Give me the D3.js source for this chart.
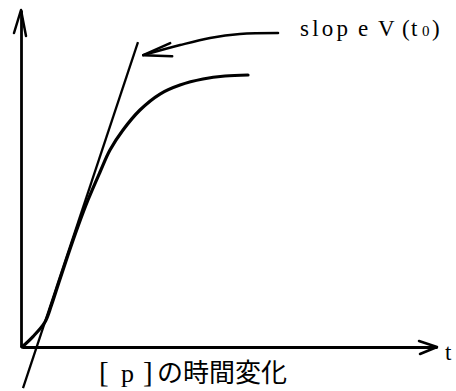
<!DOCTYPE html>
<html>
<head>
<meta charset="utf-8">
<script src="https://cdn.jsdelivr.net/npm/d3@7/dist/d3.min.js"></script>
<style>
  html, body { margin: 0; padding: 0; background: #fff; }
  svg { display: block; }
  .serif { font-family: "Liberation Serif", "DejaVu Serif", serif; }
  .cjk { font-family: "Noto Sans CJK JP", sans-serif; }
</style>
</head>
<body>
<svg id="chart" width="456" height="391"></svg>
<script>
// Product concentration [p] over time t (arbitrary units)
const timeT = [0, 2.65, 5.54, 7.11, 8.92, 11.08, 13.61, 15.9, 18.8, 21.2, 24.34, 28.43, 33.25, 38.07, 43.61, 48.92, 54.46];
const productP = [0, 3.1, 7.42, 12.46, 19.29, 27.3, 36.2, 43.62, 51.93, 58.46, 64.39, 70.33, 75.07, 77.74, 79.53, 80.42, 80.71];

// Tangent line at t0 (slope V(t0)), given by its two end points
const tangentT = [0.24, 27.95];
const tangentP = [-12.17, 90.5];

// Annotation arrow pointing at the tangent line
const pointerT = [61.7, 52.5, 45.3, 38.1, 29.2];
const pointerP = [93.2, 92.9, 91.7, 89.6, 86.6];

const svg = d3.select("#chart");
const margin = { left: 22, right: 19, top: 10, bottom: 44 };
const W = 456, H = 391;

const x = d3.scaleLinear().domain([0, 100]).range([margin.left, W - margin.right]);
const y = d3.scaleLinear().domain([0, 100]).range([H - margin.bottom, margin.top]);

// Axes: plain lines without ticks, ending in open arrowheads
const xAxis = svg.append("g")
  .attr("transform", `translate(0,${y(0)})`)
  .call(d3.axisBottom(x).tickValues([]).tickSizeOuter(0));
const yAxis = svg.append("g")
  .attr("transform", `translate(${x(0) - 1},0)`)
  .call(d3.axisLeft(y).tickValues([]).tickSizeOuter(0));
[xAxis, yAxis].forEach(g => g.select(".domain")
  .attr("stroke", "#000").attr("stroke-width", 2.8));

const line = d3.line().x(d => d[0]).y(d => d[1]);
const arrowStyle = sel => sel.attr("fill", "none").attr("stroke", "#000")
  .attr("stroke-width", 2.5).attr("stroke-linecap", "round").attr("stroke-linejoin", "round");

// y-axis arrowhead
const yTip = [x(0) - 1, y(100)];
svg.append("path").call(arrowStyle)
  .attr("d", line([[yTip[0] - 7, yTip[1] + 23], yTip, [yTip[0] + 5, yTip[1] + 26]]));
// x-axis arrowhead
const xTip = [x(100), y(0)];
svg.append("path").call(arrowStyle)
  .attr("d", line([[xTip[0] - 18, xTip[1] - 6], xTip, [xTip[0] - 17, xTip[1] + 7]]));

// Product curve
svg.append("path")
  .datum(timeT.map((t, i) => [t, productP[i]]))
  .attr("fill", "none").attr("stroke", "#000").attr("stroke-width", 3.2)
  .attr("stroke-linecap", "round")
  .attr("d", d3.line().x(d => x(d[0])).y(d => y(d[1])).curve(d3.curveCatmullRom.alpha(0.5)));

// Tangent line
svg.append("path")
  .datum(tangentT.map((t, i) => [t, tangentP[i]]))
  .attr("fill", "none").attr("stroke", "#000").attr("stroke-width", 2.3)
  .attr("d", d3.line().x(d => x(d[0])).y(d => y(d[1])));

// Pointer arrow to the tangent
const ptr = pointerT.map((t, i) => [x(t), y(pointerP[i])]);
svg.append("path").call(arrowStyle)
  .attr("d", d3.line().curve(d3.curveCatmullRom)(ptr));
const tip = ptr[ptr.length - 1];
svg.append("path").call(arrowStyle)
  .attr("d", line([[tip[0] + 27, tip[1] - 12], tip, [tip[0] + 29, tip[1] + 1]]));

// Label: slope V(t0)
const lab = svg.append("text").attr("class", "serif").attr("y", 36).attr("font-size", 23);
lab.append("tspan").attr("x", 300).attr("letter-spacing", 3.2).text("slop");
lab.append("tspan").attr("x", 358).text("e");
lab.append("tspan").attr("x", 378).text("V");
lab.append("tspan").attr("x", 402).text("(");
lab.append("tspan").attr("x", 411).text("t");
lab.append("tspan").attr("x", 422).attr("font-size", 15).text("0");
lab.append("tspan").attr("x", 432).text(")");

// Axis label t
svg.append("text").attr("class", "serif").attr("x", 445).attr("y", 360)
  .attr("font-size", 23).text("t");

// Caption: [p] の時間変化
const cap = svg.append("text").attr("y", 382);
cap.append("tspan").attr("class", "serif").attr("x", 99).attr("font-size", 29).text("[");
cap.append("tspan").attr("class", "serif").attr("x", 121).attr("font-size", 26).text("p");
cap.append("tspan").attr("class", "serif").attr("x", 143).attr("font-size", 29).text("]");
cap.append("tspan").attr("class", "cjk").attr("x", 157).attr("font-size", 26).text("の時間変化");
</script>
</body>
</html>
